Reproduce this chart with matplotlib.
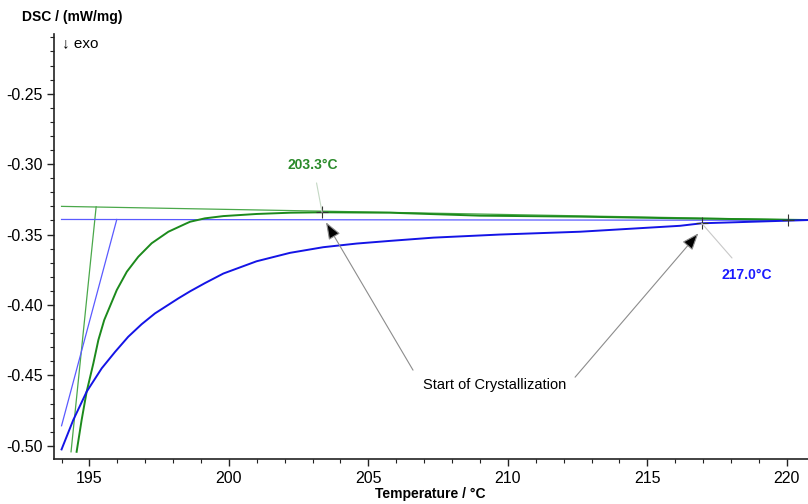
import numpy as np
import matplotlib.pyplot as plt
from matplotlib.ticker import MultipleLocator, FormatStrFormatter

plt.rcParams['font.family'] = ['Liberation Sans', 'DejaVu Sans']
plt.rcParams['axes.unicode_minus'] = False

# DSC curves (temperature in degC, DSC in mW/mg)
green_T = [194.54, 194.72, 194.90, 195.14, 195.32, 195.53, 195.68, 195.98, 196.34, 196.75,
           197.23, 197.83, 198.43, 198.61, 199.14, 199.80, 200.99, 202.20, 203.38, 205.78,
           209.00, 212.59, 216.17, 220.76]
green_dsc = [-0.5043, -0.4817, -0.4616, -0.4415, -0.4249, -0.4107, -0.4036, -0.3894, -0.3764, -0.3658,
             -0.3562, -0.3480, -0.3425, -0.3409, -0.3385, -0.3369, -0.3354, -0.3345, -0.3342, -0.3345,
             -0.3366, -0.3373, -0.3385, -0.3397]

blue_T = [194.00, 194.42, 194.90, 195.44, 195.92, 196.39, 196.87, 197.35, 198.19, 198.61,
          199.14, 199.80, 200.99, 202.19, 203.38, 204.58, 205.78, 207.33, 209.72, 212.59,
          216.17, 216.95, 220.76]
blue_dsc = [-0.5026, -0.4817, -0.4616, -0.4450, -0.4333, -0.4226, -0.4137, -0.4060, -0.3953, -0.3903,
            -0.3845, -0.3777, -0.3690, -0.3630, -0.3590, -0.3564, -0.3545, -0.3522, -0.3500, -0.3480,
            -0.3438, -0.3420, -0.3397]

# construction lines (baselines and tangents)
green_base_T = [194.0, 220.76]
green_base_dsc = [-0.3300, -0.3397]
green_tan_T = [194.34, 195.24]
green_tan_dsc = [-0.5043, -0.3303]
blue_base_T = [194.0, 220.76]
blue_base_dsc = [-0.3393, -0.3399]
blue_tan_T = [194.0, 195.98]
blue_tan_dsc = [-0.4858, -0.3393]

# evaluated points
onset_green = (203.34, -0.3342)
onset_blue = (216.95, -0.3420)
end_point = (220.06, -0.3397)

GREEN = '#1c8a1c'
GREEN_LIGHT = '#4aa84a'
BLUE = '#1414e6'
BLUE_LIGHT = '#5a5aff'

fig = plt.figure(figsize=(8.08, 5.04), dpi=100)
ax = fig.add_axes([0.0672, 0.0893, 0.9328, 0.8432])

ax.plot(green_base_T, green_base_dsc, color=GREEN_LIGHT, lw=0.9)
ax.plot(green_tan_T, green_tan_dsc, color=GREEN_LIGHT, lw=0.9)
ax.plot(blue_base_T, blue_base_dsc, color=BLUE_LIGHT, lw=0.9)
ax.plot(blue_tan_T, blue_tan_dsc, color=BLUE_LIGHT, lw=0.9)
ax.plot(green_T, green_dsc, color=GREEN, lw=1.4, solid_joinstyle='round')
ax.plot(blue_T, blue_dsc, color=BLUE, lw=1.4, solid_joinstyle='round')

for p in (onset_green, onset_blue, end_point):
    ax.plot(*p, marker='+', color='#333333', ms=8, mew=0.8)

ax.set_xlim(193.74, 220.76)
ax.set_ylim(-0.5094, -0.2076)

ax.xaxis.set_major_locator(MultipleLocator(5))
ax.xaxis.set_minor_locator(MultipleLocator(1))
ax.yaxis.set_major_locator(MultipleLocator(0.05))
ax.yaxis.set_minor_locator(MultipleLocator(0.01))
ax.yaxis.set_major_formatter(FormatStrFormatter('%.2f'))
ax.tick_params(which='major', length=5, width=1, labelsize=11.5, color='#222222')
ax.tick_params(which='minor', length=3, width=0.8, color='#222222')

for s in ('top', 'right'):
    ax.spines[s].set_visible(False)
for s in ('left', 'bottom'):
    ax.spines[s].set_linewidth(1.2)
    ax.spines[s].set_color('#222222')

# labels
fig.text(0.089, 0.966, 'DSC / (mW/mg)', ha='center', va='center', fontsize=10, fontweight='bold')
fig.text(0.533, 0.020, 'Temperature / °C', ha='center', va='center', fontsize=10, fontweight='bold')
ax.text(194.02, -0.2141, '↓ exo', ha='left', va='center', fontsize=11)

ax.annotate('203.3°C', xy=onset_green, xytext=(203.02, -0.3006), ha='center', va='center',
            color='#2a8a2a', fontsize=10, fontweight='bold',
            arrowprops=dict(arrowstyle='-', color='#c4d8c4', lw=0.8, shrinkA=6, shrinkB=0))
ax.annotate('217.0°C', xy=onset_blue, xytext=(218.57, -0.3788), ha='center', va='center',
            color='#1a1aff', fontsize=10, fontweight='bold',
            arrowprops=dict(arrowstyle='-', color='#c8c8c8', lw=0.8, shrinkA=7, shrinkB=0))

ax.text(209.51, -0.4569, 'Start of Crystallization', ha='center', va='center', fontsize=10.5)
arrow_kw = dict(arrowstyle='-|>,head_length=1.05,head_width=0.4', mutation_scale=10,
                fc='black', ec='#8c8c8c', lw=0.8, shrinkA=0, shrinkB=0)
ax.annotate('', xy=(203.48, -0.3413), xytext=(206.60, -0.4463), arrowprops=arrow_kw)
ax.annotate('', xy=(216.83, -0.3491), xytext=(212.41, -0.4513), arrowprops=arrow_kw)

fig.savefig('out.png', dpi=100)
